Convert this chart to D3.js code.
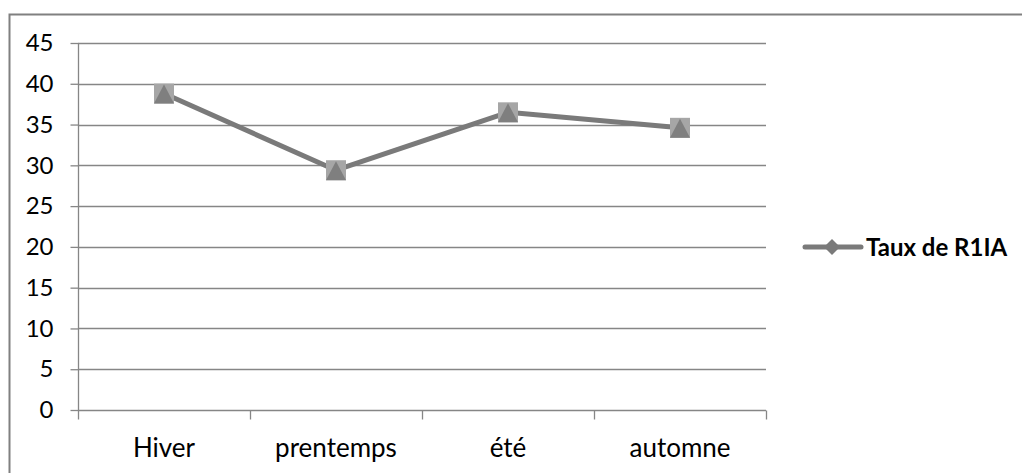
<!DOCTYPE html>
<html><head><meta charset="utf-8">
<script src="https://cdn.jsdelivr.net/npm/d3@7"></script>
<style>body{margin:0;background:#fff}svg{display:block}</style>
</head><body><svg id="c" width="1022" height="473"></svg>
<script>
const categories = ["Hiver", "prentemps", "été", "automne"];
const values = [38.8, 29.4, 36.5, 34.6];
const yTicks = [0, 5, 10, 15, 20, 25, 30, 35, 40, 45];
const seriesName = "Taux de R1IA";

(function () {
const svg = d3.select("#c");
const font = "Lato, 'Open Sans', sans-serif";
const pl = 78, pr = 766, pt = 43, pb = 410;
const axisCol = "#868686";

// outer frame
svg.append("path").attr("d", "M9.5,473 V14.5 H1022").attr("fill", "none").attr("stroke", "#808080").attr("stroke-width", 2);

const x = d3.scaleBand().domain(categories).range([pl, pr]);
const y = d3.scaleLinear().domain([0, 45]).range([pb, pt]);

// gridlines
svg.append("g").selectAll("line").data(yTicks.filter(d => d > 0)).join("line")
  .attr("x1", pl).attr("x2", pr).attr("y1", d => Math.round(y(d)) + 0.5).attr("y2", d => Math.round(y(d)) + 0.5)
  .attr("stroke", axisCol).attr("stroke-width", 1.3);

// y axis
const ya = svg.append("g").attr("transform", `translate(${pl + 0.5},0)`)
  .call(d3.axisLeft(y).tickValues(yTicks).tickSize(8).tickPadding(17));
ya.select(".domain").attr("stroke", axisCol).attr("stroke-width", 1.3).attr("d", `M0,${pt}V${pb}`);
ya.selectAll(".tick line").attr("stroke", axisCol).attr("stroke-width", 1.3);
ya.selectAll(".tick text").attr("font-family", font).attr("font-size", 24).attr("fill", "#000");

// x axis
const xa = svg.append("g").attr("transform", `translate(0,${pb + 0.5})`);
xa.append("line").attr("x1", pl).attr("x2", pr).attr("stroke", axisCol).attr("stroke-width", 1.3);
const bounds = categories.map(c => x(c)).concat([pr]);
xa.selectAll("line.t").data(bounds).join("line").attr("class", "t")
  .attr("x1", d => Math.round(d) + 0.5).attr("x2", d => Math.round(d) + 0.5).attr("y1", 0).attr("y2", 9)
  .attr("stroke", axisCol).attr("stroke-width", 1.3);
xa.selectAll("text").data(categories).join("text")
  .attr("x", d => x(d) + x.bandwidth() / 2).attr("y", 46).attr("text-anchor", "middle")
  .attr("font-family", font).attr("font-size", 26).attr("fill", "#000").text(d => d);

// line
const cx = d => x(d) + x.bandwidth() / 2;
svg.append("path").datum(values)
  .attr("d", d3.line().x((d, i) => cx(categories[i])).y(d => y(d)))
  .attr("fill", "none").attr("stroke", "#7a7a7a").attr("stroke-width", 5).attr("stroke-linejoin", "round");

// markers
const m = svg.append("g").selectAll("g").data(values).join("g")
  .attr("transform", (d, i) => `translate(${cx(categories[i])},${y(d)})`);
m.append("rect").attr("x", -10).attr("y", -10).attr("width", 20).attr("height", 20).attr("fill", "#a6a6a6");
m.append("path").attr("d", "M0,-9 L10,10 L-10,10 Z").attr("fill", "#7f7f7f");

// legend
const lg = svg.append("g").attr("transform", "translate(805,247)");
lg.append("line").attr("x1", 0).attr("x2", 56).attr("stroke", "#7a7a7a").attr("stroke-width", 5).attr("stroke-linecap", "round");
lg.append("path").attr("d", "M27,-8 L35,0 L27,8 L19,0 Z").attr("fill", "#7a7a7a");
lg.append("text").attr("x", 61).attr("y", 9).attr("font-family", font).attr("font-weight", "bold")
  .attr("font-size", 24).attr("fill", "#000").text(seriesName);
})();
</script></body></html>
